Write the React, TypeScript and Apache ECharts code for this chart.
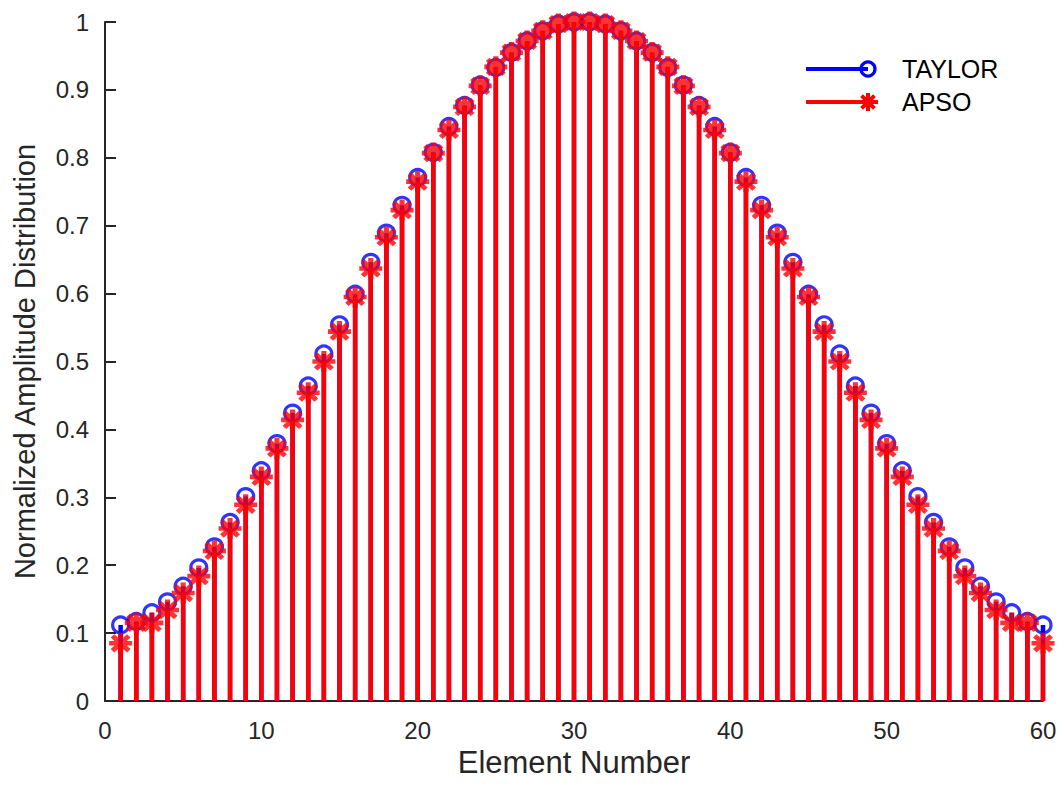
import React, { useEffect, useRef } from "react";
import * as echarts from "echarts";

const elements: number[] = Array.from({ length: 60 }, (_, i) => i + 1);

const taylor: number[] = [
  0.112, 0.117, 0.130, 0.146, 0.169, 0.196, 0.227, 0.263, 0.301, 0.339,
  0.379, 0.424, 0.464, 0.511, 0.554, 0.599, 0.646, 0.689, 0.730, 0.771,
  0.808, 0.846, 0.877, 0.907, 0.933, 0.955, 0.972, 0.987, 0.997, 1.000,
  1.000, 0.997, 0.987, 0.972, 0.955, 0.933, 0.907, 0.877, 0.846, 0.808,
  0.771, 0.730, 0.689, 0.646, 0.599, 0.554, 0.511, 0.464, 0.424, 0.379,
  0.339, 0.301, 0.263, 0.227, 0.196, 0.169, 0.146, 0.130, 0.117, 0.112,
];

const apso: number[] = [
  0.085, 0.115, 0.115, 0.134, 0.159, 0.184, 0.221, 0.254, 0.289, 0.330,
  0.372, 0.414, 0.454, 0.500, 0.544, 0.595, 0.637, 0.683, 0.723, 0.765,
  0.807, 0.841, 0.875, 0.906, 0.934, 0.955, 0.972, 0.987, 0.997, 1.000,
  1.000, 0.997, 0.987, 0.972, 0.955, 0.934, 0.906, 0.875, 0.841, 0.807,
  0.765, 0.723, 0.683, 0.637, 0.595, 0.544, 0.500, 0.454, 0.414, 0.372,
  0.330, 0.289, 0.254, 0.221, 0.184, 0.159, 0.134, 0.115, 0.115, 0.085,
];

const seriesNames: string[] = ["TAYLOR", "APSO"];

const FONT = "'Liberation Sans', Arial, sans-serif";
const AXIS_COLOR = "#262626";
const BLUE = "#0000ff";
const RED = "#ff0000";

const ASTERISK =
  "path://M1 8H19V12H1Z M8 1H12V19H8Z " +
  "M5.01 2.19L17.81 14.99L14.99 17.81L2.19 5.01Z " +
  "M14.99 2.19L17.81 5.01L5.01 17.81L2.19 14.99Z";

function stemSeries(name: string, values: number[], color: string, z: number) {
  return {
    name,
    type: "custom",
    z,
    data: elements.map((x, i) => [x, values[i]]),
    encode: { x: 0, y: 1 },
    renderItem: (_params: any, api: any) => {
      const x = api.value(0);
      const y = api.value(1);
      const top = api.coord([x, y]);
      const base = api.coord([x, 0]);
      return {
        type: "line",
        shape: { x1: base[0], y1: base[1], x2: top[0], y2: top[1] },
        style: { stroke: color, lineWidth: 4.5 },
      };
    },
    silent: true,
  };
}

export default function App() {
  const ref = useRef<HTMLDivElement>(null);

  useEffect(() => {
    if (!ref.current) return;
    const chart = echarts.init(ref.current, undefined, { renderer: "svg" });

    const lx1 = 806;
    const lx2 = 868;
    const ly1 = 69;
    const ly2 = 102;

    chart.setOption({
      animation: false,
      backgroundColor: "#ffffff",
      textStyle: { fontFamily: FONT },
      grid: { left: 105, right: 21, top: 22, bottom: 86, containLabel: false },
      xAxis: {
        type: "value",
        min: 0,
        max: 60,
        interval: 10,
        name: "Element Number",
        nameLocation: "middle",
        nameGap: 45,
        nameTextStyle: { fontSize: 31, color: AXIS_COLOR, fontFamily: FONT },
        axisLine: { show: true, onZero: false, lineStyle: { color: AXIS_COLOR, width: 2 } },
        axisTick: { show: true, inside: true, length: 10, lineStyle: { color: AXIS_COLOR, width: 2 } },
        axisLabel: { fontSize: 24, color: AXIS_COLOR, margin: 17, fontFamily: FONT },
        splitLine: { show: false },
      },
      yAxis: {
        type: "value",
        min: 0,
        max: 1,
        interval: 0.1,
        name: "Normalized Amplitude Distribution",
        nameLocation: "middle",
        nameGap: 66,
        nameTextStyle: { fontSize: 29, color: AXIS_COLOR, fontFamily: FONT },
        axisLine: { show: true, onZero: false, lineStyle: { color: AXIS_COLOR, width: 2 } },
        axisTick: { show: true, inside: true, length: 11, lineStyle: { color: AXIS_COLOR, width: 2 } },
        axisLabel: { fontSize: 24, color: AXIS_COLOR, margin: 16, fontFamily: FONT },
        splitLine: { show: false },
      },
      series: [
        stemSeries(seriesNames[0] + " stems", taylor, BLUE, 2),
        {
          name: seriesNames[0],
          type: "scatter",
          z: 3,
          data: elements.map((x, i) => [x, taylor[i]]),
          symbol: "circle",
          symbolSize: 16,
          itemStyle: { color: "rgba(0,0,0,0)", borderColor: BLUE, borderWidth: 3.2 },
          silent: true,
        },
        stemSeries(seriesNames[1] + " stems", apso, RED, 4),
        {
          name: seriesNames[1],
          type: "scatter",
          z: 5,
          data: elements.map((x, i) => [x, apso[i]]),
          symbol: ASTERISK,
          symbolSize: [23, 21],
          itemStyle: { color: RED },
          silent: true,
        },
      ],
      graphic: [
        {
          type: "group",
          children: [
            { type: "line", shape: { x1: lx1, y1: ly1, x2: lx2, y2: ly1 }, style: { stroke: BLUE, lineWidth: 4 } },
            { type: "circle", shape: { cx: lx2, cy: ly1, r: 7 }, style: { fill: "none", stroke: BLUE, lineWidth: 3.2 } },
            {
              type: "text",
              x: 902,
              y: ly1,
              style: { text: seriesNames[0], fontSize: 25, fill: "#000000", fontFamily: FONT, verticalAlign: "middle", align: "left" },
            },
            { type: "line", shape: { x1: lx1, y1: ly2, x2: lx2, y2: ly2 }, style: { stroke: RED, lineWidth: 4 } },
            { type: "line", shape: { x1: lx2 - 10, y1: ly2, x2: lx2 + 10, y2: ly2 }, style: { stroke: RED, lineWidth: 4 } },
            { type: "line", shape: { x1: lx2, y1: ly2 - 9, x2: lx2, y2: ly2 + 9 }, style: { stroke: RED, lineWidth: 4 } },
            { type: "line", shape: { x1: lx2 - 6.4, y1: ly2 - 6.4, x2: lx2 + 6.4, y2: ly2 + 6.4 }, style: { stroke: RED, lineWidth: 4 } },
            { type: "line", shape: { x1: lx2 + 6.4, y1: ly2 - 6.4, x2: lx2 - 6.4, y2: ly2 + 6.4 }, style: { stroke: RED, lineWidth: 4 } },
            {
              type: "text",
              x: 902,
              y: ly2,
              style: { text: seriesNames[1], fontSize: 25, fill: "#000000", fontFamily: FONT, verticalAlign: "middle", align: "left" },
            },
          ],
        },
      ],
    });

    return () => chart.dispose();
  }, []);

  return <div ref={ref} style={{ width: 1064, height: 787, position: "absolute", left: 0, top: 0 }} />;
}
